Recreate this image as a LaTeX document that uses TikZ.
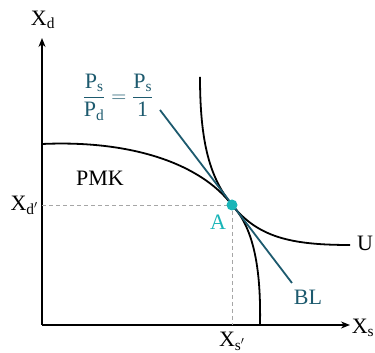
\documentclass[tikz,border=0pt]{standalone}
\usepackage{amsmath}
\usepackage{fontspec}
\setmainfont{Liberation Serif}
\usetikzlibrary{arrows.meta}

\definecolor{bldark}{HTML}{1D5A6E}
\definecolor{pointA}{HTML}{19B5B8}

\begin{document}
\begin{tikzpicture}[x=1pt, y=1pt, line width=1.8pt,
    lbl/.style={font=\fontsize{22}{26}\selectfont, inner sep=1pt}]
  \useasboundingbox (0,0) rectangle (375,353);

  \coordinate (O) at (42,28);
  \coordinate (Ytop) at (42,315);
  \coordinate (Xend) at (350,28);
  \coordinate (A) at (232,148);
  \coordinate (Ad) at (42,148);
  \coordinate (As) at (232,28);
  \coordinate (BLa) at (160,243);
  \coordinate (BLb) at (292,70);

  % axes
  \draw[-{Stealth[length=9pt,width=7pt]}] (O)--(Ytop);
  \draw[-{Stealth[length=9pt,width=7pt]}] (O)--(Xend);

  % projections of A
  \draw[gray!70, line width=0.8pt, dash pattern=on 4pt off 3pt] (Ad)--(A)--(As);

  % production possibility curve
  \draw (42,209) .. controls (130,213) and (200,190) .. (A)
        .. controls (255,124) and (261,80) .. (260,28);

  % indifference curve
  \draw (200,276) .. controls (200,210) and (210,175) .. (A)
        .. controls (258,116) and (290,108) .. (350,108);

  % budget line
  \draw[bldark] (BLa)--(BLb);

  \fill[pointA] (A) circle (5.5pt);

  \node[lbl] (xd) at (43,333) {X\textsubscript{d}};
  \node[lbl] (xs) at (363,25) {X\textsubscript{s}};
  \node[lbl, left=2pt] (xdp) at (Ad) {X\textsubscript{d$'$}};
  \node[lbl] (xsp) at (232,12) {X\textsubscript{s$'$}};
  \node[lbl] (pmk) at (100,175) {PMK};
  \node[lbl, text=pointA] (lblA) at (218,131) {A};
  \node[lbl] (lblU) at (365,110) {U};
  \node[lbl, text=bldark] (lblBL) at (308,56) {BL};
  \node[lbl, text=bldark] (ratio) at (118,256)
    {$\dfrac{\text{P\textsubscript{s}}}{\text{P\textsubscript{d}}}=\dfrac{\text{P\textsubscript{s}}}{\text{1}}$};
\end{tikzpicture}
\end{document}
